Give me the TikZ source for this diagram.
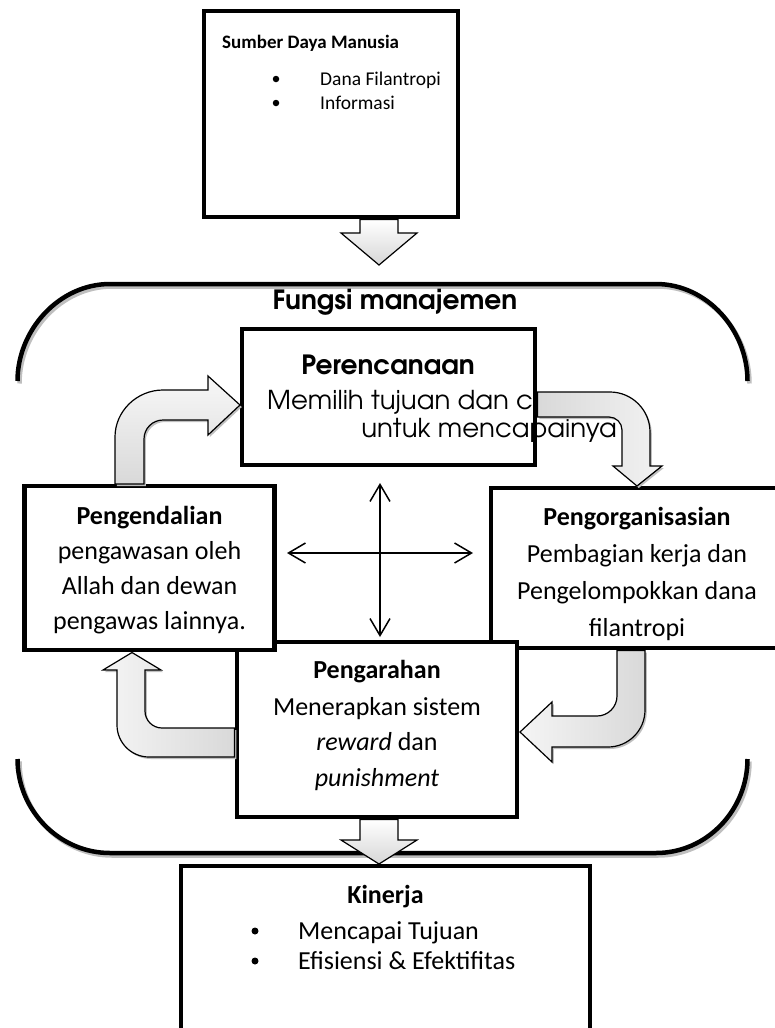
\documentclass[tikz,border=0pt]{standalone}
\usepackage{fontspec}
\setmainfont{Carlito}
\newfontfamily\gothic[Extension=.otf, UprightFont=*-regular, BoldFont=*-bold]{texgyreadventor}
\usetikzlibrary{arrows.meta}
\begin{document}
\begin{tikzpicture}[x=1pt,y=-1pt,
  box/.style={draw=black, line width=4.5pt, fill=white, rectangle, inner sep=0pt},
  cal/.style={font=\fontsize{26pt}{31pt}\selectfont, inner sep=0pt, anchor=base},
  calb/.style={font=\fontsize{26pt}{31pt}\selectfont\bfseries, inner sep=0pt, anchor=base},
  sm/.style={font=\fontsize{19.5pt}{24pt}\selectfont, inner sep=0pt, anchor=base west},
  smb/.style={font=\fontsize{19pt}{24pt}\selectfont\bfseries, inner sep=0pt, anchor=base west},
  goth/.style={font=\fontsize{26pt}{30pt}\selectfont\gothic, inner sep=0pt},
  gothb/.style={font=\fontsize{26.5pt}{30pt}\selectfont\gothic\bfseries, inner sep=0pt, anchor=base},
  framel/.style={line width=4.5pt, preaction={draw=gray!50, line width=4.5pt, transform canvas={shift={(2pt,-2.5pt)}}}},
  bent/.style={draw=black, line width=1.2pt, line join=miter, preaction={fill=gray!50, transform canvas={shift={(1.8pt,-2pt)}}}},
  dot/.style={circle, fill=black, inner sep=0pt, minimum size=6.5pt},
  bigdot/.style={circle, fill=black, inner sep=0pt, minimum size=7pt},
  cross/.style={line width=1.5pt, {Straight Barb[length=17pt,width=20pt]}-{Straight Barb[length=17pt,width=20pt]}}
]
\useasboundingbox (0,0) rectangle (775,1028);
\clip (0,0) rectangle (775,1028);

% management frame
\draw[framel] (17.5,381) .. controls (17.5,330) and (59,284) .. (110,284) -- (656,284) .. controls (707,284) and (747.5,330) .. (747.5,381);
\draw[framel] (17.5,759) .. controls (17.5,810) and (59,853) .. (110,853) -- (656,853) .. controls (707,853) and (747.5,810) .. (747.5,759);

% top box
\node[box, minimum width=254pt, minimum height=206pt] (sdm) at (331,114) {};
\node[smb] (sdmt) at (222,48) {Sumber Daya Manusia};
\node[dot] (sdmb1) at (276,79) {};
\node[dot] (sdmb2) at (276,103) {};
\node[sm] (sdm1) at (320,85) {Dana Filantropi};
\node[sm] (sdm2) at (320,109) {Informasi};

% top down arrow
\path[draw=black, line width=1.2pt, top color=white, bottom color=gray!32]
  (360,219.5) -- (398,219.5) -- (398,233) -- (417,233) -- (379,265) -- (341,233) -- (360,233) -- cycle;

\node[gothb] (fm) at (395,309) {Fungsi manajemen};

% boxes
\node[box, minimum width=292pt, minimum height=160pt] (org) at (637,568) {};
\node[box, minimum width=280pt, minimum height=175pt] (dir) at (377,729.5) {};
\node[box, minimum width=250pt, minimum height=164pt] (ctrl) at (149.5,568) {};
\node[box, minimum width=293pt, minimum height=136pt] (plan) at (388.5,397) {};

% texts
\node[gothb] (plant) at (388,374) {Perencanaan};
\node[goth, anchor=base west] (plan1) at (267,409) {Memilih tujuan dan c};
\node[goth, anchor=base east] (plan2) at (617,437) {untuk mencapainya};

\node[calb] (ctrlt) at (149.5,524) {Pengendalian};
\node[cal] (ctrl1) at (149.5,559) {pengawasan oleh};
\node[cal] (ctrl2) at (149.5,594) {Allah dan dewan};
\node[cal] (ctrl3) at (149.5,629) {pengawas lainnya.};

\node[calb] (orgt) at (637,525) {Pengorganisasian};
\node[cal] (org1) at (637,562) {Pembagian kerja dan};
\node[cal] (org2) at (637,599) {Pengelompokkan dana};
\node[cal] (org3) at (637,636) {filantropi};

\node[calb] (dirt) at (377,678) {Pengarahan};
\node[cal] (dir1) at (377,715) {Menerapkan sistem};
\node[cal] (dir2) at (377,750) {\textit{reward} dan};
\node[cal] (dir3) at (377,786) {\textit{punishment}};

% bent arrows
\path[bent, top color=gray!6, bottom color=gray!30]
  (115,484) -- (115,437) .. controls (115,411) and (137,390) .. (163,390) -- (208,390) -- (208,376) -- (240,405)
  -- (208,435) -- (208,420) -- (163,420) .. controls (152.5,420) and (144,428.5) .. (144,439) -- (144,484) -- cycle;
\path[bent, left color=gray!30, right color=gray!10]
  (537.5,392) -- (610,392) .. controls (632,392) and (650,410) .. (650,432) -- (650,466) -- (662,466) -- (637,486)
  -- (613,466) -- (622,466) -- (622,430) .. controls (622,422.8) and (616.2,417) .. (609,417) -- (537.5,417) -- cycle;
\path[bent, left color=gray!8, right color=gray!30]
  (617,650.5) -- (645,650.5) -- (645,710) .. controls (645,730.4) and (628.4,747) .. (608,747) -- (552,747) -- (552,762)
  -- (520,732) -- (552,702) -- (552,716) -- (597,716) .. controls (608,716) and (617,707) .. (617,696) -- cycle;
\path[bent, left color=gray!8, right color=gray!30]
  (234.5,757) -- (149,757) .. controls (131.3,757) and (117,742.7) .. (117,725) -- (117,670) -- (103,670) -- (132,652.5)
  -- (161,670) -- (145,670) -- (145,711) .. controls (145,720.4) and (152.6,728) .. (162,728) -- (234.5,728) -- cycle;

% cross arrows
\coordinate (vt) at (380,483);
\coordinate (vb) at (380,637);
\coordinate (hl) at (287,553);
\coordinate (hr) at (473,553);
\draw[cross] (vt) -- (vb);
\draw[cross] (hl) -- (hr);

% bottom box
\node[box, minimum width=409pt, minimum height=200pt] (kin) at (385.5,966) {};
\node[calb] (kint) at (385.5,903) {Kinerja};
\node[bigdot] (kinb1) at (255,931) {};
\node[bigdot] (kinb2) at (255,961) {};
\node[cal, anchor=base west] (kin1) at (298,939) {Mencapai Tujuan};
\node[cal, anchor=base west] (kin2) at (298,969) {Efisiensi \& Efektifitas};

% bottom down arrow
\path[draw=black, line width=1.2pt, top color=white, bottom color=gray!32]
  (360,819.5) -- (398,819.5) -- (398,840) -- (417,840) -- (379,864) -- (341,840) -- (360,840) -- cycle;
\end{tikzpicture}
\end{document}
